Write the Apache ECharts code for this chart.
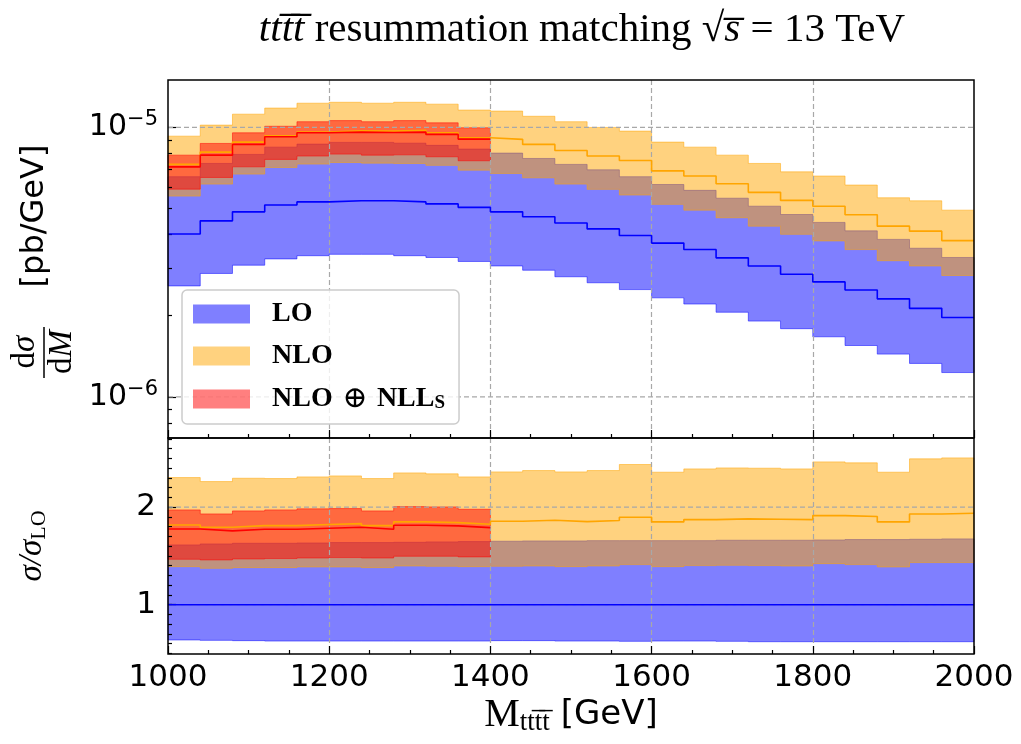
<!DOCTYPE html>
<html>
<head>
<meta charset="utf-8">
<title>tttt resummation matching</title>
<script src="https://cdn.jsdelivr.net/npm/echarts@6/dist/echarts.min.js"></script>
<style>
  html, body { margin: 0; padding: 0; background: #fff; }
  #chart { width: 1021px; height: 744px; }
</style>
</head>
<body>
<div id="chart"></div>
<script>
// bin edges of M(tttt) in GeV
const binEdges = [1000, 1040, 1080, 1120, 1160, 1200, 1240, 1280, 1320, 1360, 1400, 1440, 1480,
  1520, 1560, 1600, 1640, 1680, 1720, 1760, 1800, 1840, 1880, 1920, 1960, 2000];

// dsigma/dM [pb/GeV]
const loMid = [4.02e-6, 4.50e-6, 4.86e-6, 5.15e-6, 5.29e-6, 5.34e-6, 5.34e-6, 5.29e-6, 5.20e-6, 5.05e-6,
  4.86e-6, 4.66e-6, 4.42e-6, 4.20e-6, 3.97e-6, 3.72e-6, 3.52e-6, 3.28e-6, 3.06e-6, 2.85e-6,
  2.67e-6, 2.49e-6, 2.31e-6, 2.13e-6, 1.97e-6];
const loLow = [2.58e-6, 2.87e-6, 3.08e-6, 3.25e-6, 3.34e-6, 3.38e-6, 3.38e-6, 3.34e-6, 3.29e-6, 3.18e-6,
  3.06e-6, 2.95e-6, 2.79e-6, 2.65e-6, 2.50e-6, 2.33e-6, 2.21e-6, 2.06e-6, 1.91e-6, 1.79e-6,
  1.67e-6, 1.55e-6, 1.44e-6, 1.33e-6, 1.23e-6];
const loHigh = [6.56e-6, 7.35e-6, 7.94e-6, 8.45e-6, 8.67e-6, 8.80e-6, 8.80e-6, 8.74e-6, 8.58e-6, 8.31e-6,
  8.03e-6, 7.67e-6, 7.29e-6, 6.96e-6, 6.56e-6, 6.14e-6, 5.84e-6, 5.46e-6, 5.10e-6, 4.75e-6,
  4.44e-6, 4.13e-6, 3.84e-6, 3.56e-6, 3.29e-6];

const nloMid = [7.29e-6, 8.10e-6, 8.82e-6, 9.31e-6, 9.61e-6, 9.71e-6, 9.69e-6, 9.75e-6, 9.55e-6, 9.15e-6,
  9.03e-6, 8.65e-6, 8.21e-6, 7.83e-6, 7.54e-6, 6.90e-6, 6.60e-6, 6.18e-6, 5.74e-6, 5.36e-6,
  5.10e-6, 4.74e-6, 4.30e-6, 4.12e-6, 3.80e-6];
const nloLow = [5.56e-6, 6.16e-6, 6.71e-6, 7.10e-6, 7.31e-6, 7.41e-6, 7.37e-6, 7.35e-6, 7.23e-6, 6.94e-6,
  6.75e-6, 6.50e-6, 6.16e-6, 5.89e-6, 5.61e-6, 5.18e-6, 4.93e-6, 4.62e-6, 4.30e-6, 4.01e-6,
  3.79e-6, 3.52e-6, 3.20e-6, 3.06e-6, 2.82e-6];
const nloHigh = [9.28e-6, 1.02e-5, 1.12e-5, 1.18e-5, 1.23e-5, 1.24e-5, 1.23e-5, 1.24e-5, 1.22e-5, 1.16e-5,
  1.15e-5, 1.10e-5, 1.05e-5, 1.00e-5, 9.69e-6, 8.82e-6, 8.45e-6, 7.89e-6, 7.35e-6, 6.84e-6,
  6.60e-6, 6.11e-6, 5.48e-6, 5.34e-6, 4.93e-6];

// NLO+NLL_S only covers 1000-1400 GeV
const nllMid = [7.14e-6, 7.89e-6, 8.65e-6, 9.23e-6, 9.55e-6, 9.61e-6, 9.58e-6, 9.61e-6, 9.42e-6, 9.05e-6];
const nllLow = [5.90e-6, 6.52e-6, 7.14e-6, 7.61e-6, 7.83e-6, 7.96e-6, 7.89e-6, 7.91e-6, 7.78e-6, 7.52e-6];
const nllHigh = [7.89e-6, 8.72e-6, 9.55e-6, 1.01e-5, 1.05e-5, 1.06e-5, 1.05e-5, 1.06e-5, 1.04e-5, 9.97e-6];

// sigma / sigma_LO
const loRatioMid = [1, 1, 1, 1, 1, 1, 1, 1, 1, 1, 1, 1, 1, 1, 1, 1, 1, 1, 1, 1, 1, 1, 1, 1, 1];
const loRatioLow = [0.638, 0.634, 0.631, 0.627, 0.627, 0.627, 0.627, 0.627, 0.627, 0.627,
  0.631, 0.631, 0.627, 0.627, 0.624, 0.627, 0.627, 0.624, 0.620, 0.620,
  0.620, 0.620, 0.620, 0.620, 0.620];
const loRatioHigh = [1.613, 1.623, 1.630, 1.630, 1.633, 1.637, 1.637, 1.640, 1.644, 1.647,
  1.651, 1.654, 1.654, 1.657, 1.657, 1.657, 1.657, 1.661, 1.661, 1.661,
  1.664, 1.668, 1.668, 1.671, 1.675];
const nloRatioMid = [1.818, 1.794, 1.811, 1.811, 1.822, 1.832, 1.811, 1.849, 1.842, 1.825,
  1.856, 1.866, 1.852, 1.863, 1.897, 1.849, 1.873, 1.880, 1.876, 1.873,
  1.914, 1.904, 1.849, 1.931, 1.938];
const nloRatioLow = [1.390, 1.373, 1.380, 1.380, 1.387, 1.387, 1.380, 1.397, 1.394, 1.390,
  1.394, 1.397, 1.390, 1.397, 1.411, 1.390, 1.401, 1.404, 1.401, 1.397,
  1.421, 1.411, 1.387, 1.432, 1.432];
const nloRatioHigh = [2.304, 2.263, 2.297, 2.294, 2.311, 2.321, 2.294, 2.352, 2.342, 2.311,
  2.362, 2.376, 2.362, 2.376, 2.438, 2.359, 2.393, 2.403, 2.400, 2.393,
  2.465, 2.455, 2.359, 2.496, 2.506];
const nllRatioMid = [1.777, 1.757, 1.774, 1.774, 1.784, 1.794, 1.774, 1.815, 1.808, 1.791];
const nllRatioLow = [1.466, 1.459, 1.469, 1.473, 1.479, 1.483, 1.479, 1.497, 1.497, 1.490];
const nllRatioHigh = [1.972, 1.931, 1.962, 1.972, 1.983, 1.986, 1.962, 2.006, 2.003, 1.979];

// tick values
const xTicks = [1000, 1200, 1400, 1600, 1800, 2000];
const logMajorTicks = [1e-6, 1e-5];
const logMinorTicks = [8e-7, 9e-7, 2e-6, 3e-6, 4e-6, 5e-6, 6e-6, 7e-6, 8e-6, 9e-6];
const ratioMajorTicks = [1, 2];
const ratioMinorTicks = [];
for (let k = 5; k <= 27; k++) ratioMinorTicks.push(k / 10);

const legendLabels = {
  'LO': '{t|LO}',
  'NLO': '{t|NLO}',
  'NLL': '{t|NLO}{o| ⊕ }{t|NLL}{s|S}'
};

const blueFill = 'rgba(0,0,255,0.5)';
const orangeFill = 'rgba(255,165,0,0.5)';
const redFill = 'rgba(255,0,0,0.5)';
const gridGrey = '#a8a8a8';

const chart = echarts.init(document.getElementById('chart'));

function stepData(vals) {
  const pts = vals.map((v, i) => [binEdges[i], v]);
  pts.push([binEdges[vals.length], vals[vals.length - 1]]);
  return pts;
}

function band(name, lo, hi, color, xi, yi) {
  return {
    name: name,
    type: 'custom',
    xAxisIndex: xi,
    yAxisIndex: yi,
    z: 1,
    silent: true,
    itemStyle: { color: color },
    data: [[binEdges[0], lo[0]]],
    renderItem: function (params, api) {
      const top = [];
      const bottom = [];
      lo.forEach(function (v, i) {
        top.push(api.coord([binEdges[i], hi[i]]), api.coord([binEdges[i + 1], hi[i]]));
        bottom.push(api.coord([binEdges[i], v]), api.coord([binEdges[i + 1], v]));
      });
      return {
        type: 'polygon',
        shape: { points: top.concat(bottom.reverse()) },
        style: { fill: color, stroke: color, lineWidth: 1 }
      };
    }
  };
}

function stepLine(name, vals, color, xi, yi) {
  return {
    name: name,
    type: 'line',
    step: 'end',
    xAxisIndex: xi,
    yAxisIndex: yi,
    z: 5,
    silent: true,
    symbol: 'none',
    lineStyle: { color: color, width: 1.6 },
    data: stepData(vals)
  };
}

// horizontal dashed grid lines at the major ticks, drawn above the bands
function hGrid(values, xi, yi) {
  return {
    type: 'custom',
    xAxisIndex: xi,
    yAxisIndex: yi,
    z: 3,
    silent: true,
    data: values.map(function (v) { return [binEdges[0], v]; }),
    renderItem: function (params, api) {
      const a = api.coord([binEdges[0], api.value(1)]);
      const b = api.coord([binEdges[binEdges.length - 1], api.value(1)]);
      return {
        type: 'line',
        shape: { x1: a[0], y1: a[1], x2: b[0], y2: b[1] },
        style: { stroke: gridGrey, lineWidth: 1.2, lineDash: [5, 3] }
      };
    }
  };
}

const tickLine = { color: '#000', width: 1.2 };
const gridDash = {
  show: true,
  showMinLine: false,
  showMaxLine: false,
  lineStyle: { color: gridGrey, width: 1.2, type: [5, 3] }
};
const tickFont = { fontFamily: 'DejaVu Sans', fontSize: 31, color: '#000' };

function xAxisFor(gridIndex, withLabels) {
  return {
    gridIndex: gridIndex,
    type: 'value',
    position: 'bottom',
    min: 1000,
    max: 2000,
    interval: 200,
    z: 2,
    axisLine: { show: false },
    axisTick: { inside: true, length: 8, lineStyle: tickLine },
    minorTick: { show: true, splitNumber: 4, length: 4, lineStyle: tickLine },
    axisLabel: withLabels
      ? Object.assign({ margin: 8, customValues: xTicks, formatter: function (v) { return String(v); } }, tickFont)
      : { show: false },
    splitLine: gridDash
  };
}

function yTickAxis(gridIndex, type, min, max, ticks, len) {
  return {
    gridIndex: gridIndex, type: type, position: 'left', min: min, max: max, z: 2,
    axisLine: { show: false },
    axisTick: { inside: true, length: len, customValues: ticks, lineStyle: tickLine },
    axisLabel: { show: false },
    splitLine: { show: false }
  };
}

const option = {
  animation: false,
  backgroundColor: '#fff',
  title: {
    left: 577,
    top: 5,
    textAlign: 'center',
    text: '{it|ttt\u0305t\u0305} resummation matching √{it|s\u0305} = 13 TeV',
    textStyle: {
      fontFamily: 'Liberation Serif',
      fontSize: 41,
      fontWeight: 'normal',
      color: '#000',
      rich: {
        it: { fontFamily: 'Liberation Serif', fontStyle: 'italic', fontSize: 41, color: '#000' }
      }
    }
  },
  grid: [
    { left: 168, right: 47, top: 80, height: 358, show: true, z: 6,
      borderColor: '#000', borderWidth: 1.5, backgroundColor: 'transparent', outerBoundsMode: 'none' },
    { left: 168, right: 47, top: 438, height: 216, show: true, z: 6,
      borderColor: '#000', borderWidth: 1.5, backgroundColor: 'transparent', outerBoundsMode: 'none' }
  ],
  xAxis: [
    xAxisFor(0, false),
    Object.assign(xAxisFor(1, true), {
      name: '{m|M}{sub|ttt\u0305t\u0305}{g| [GeV]}',
      nameLocation: 'middle',
      nameGap: 40,
      nameTextStyle: {
        rich: {
          m: { fontFamily: 'Liberation Serif', fontSize: 40, color: '#000', lineHeight: 42 },
          sub: { fontFamily: 'Liberation Serif', fontSize: 27, color: '#000', lineHeight: 20, verticalAlign: 'bottom' },
          g: { fontFamily: 'DejaVu Sans', fontSize: 34, color: '#000', lineHeight: 42 }
        }
      }
    })
  ],
  yAxis: [
    {
      gridIndex: 0, type: 'log', logBase: 10, position: 'left', min: 7.03e-7, max: 1.5e-5, z: 2,
      axisLine: { show: false },
      axisTick: { inside: true, length: 8, customValues: logMajorTicks, lineStyle: tickLine },
      axisLabel: {
        customValues: logMajorTicks,
        margin: 10,
        formatter: function (v) {
          return '{b|10}{s|\u2212' + Math.round(-Math.log10(v)) + '}';
        },
        rich: {
          b: { fontFamily: 'DejaVu Sans', fontSize: 30, color: '#000', lineHeight: 36 },
          s: { fontFamily: 'DejaVu Sans', fontSize: 21, color: '#000', lineHeight: 22, verticalAlign: 'top' }
        }
      },
      splitLine: { show: false }
    },
    yTickAxis(0, 'log', 7.03e-7, 1.5e-5, logMinorTicks, 4),
    {
      gridIndex: 1, type: 'value', position: 'left', min: 0.494, max: 2.71, z: 2,
      axisLine: { show: false },
      axisTick: { inside: true, length: 8, customValues: ratioMajorTicks, lineStyle: tickLine },
      axisLabel: Object.assign({ margin: 12, customValues: ratioMajorTicks }, tickFont),
      splitLine: { show: false }
    },
    yTickAxis(1, 'value', 0.494, 2.71, ratioMinorTicks, 4)
  ],
  legend: {
    left: 182,
    top: 290,
    orient: 'vertical',
    z: 10,
    selectedMode: false,
    data: ['LO', 'NLO', 'NLL'],
    icon: 'rect',
    itemWidth: 57,
    itemHeight: 19,
    itemGap: 14,
    padding: [10, 14, 10, 11],
    backgroundColor: 'rgba(255,255,255,0.8)',
    borderColor: '#cccccc',
    borderWidth: 1.5,
    borderRadius: 5,
    formatter: function (name) { return legendLabels[name]; },
    textStyle: {
      padding: [0, 0, 0, 17],
      rich: {
        t: { fontFamily: 'Liberation Serif', fontWeight: 'bold', fontSize: 28, color: '#000', lineHeight: 28 },
        o: { fontFamily: 'DejaVu Serif', fontSize: 30, color: '#000', lineHeight: 28 },
        s: { fontFamily: 'Liberation Serif', fontWeight: 'bold', fontSize: 19, color: '#000', lineHeight: 14, verticalAlign: 'bottom' }
      }
    }
  },
  graphic: [
    { type: 'text', x: 35, y: 216, rotation: Math.PI / 2, z: 20,
      style: { text: '[pb/GeV]', fontFamily: 'DejaVu Sans', fontSize: 32, fill: '#000', align: 'center', verticalAlign: 'middle' } },
    { type: 'text', x: 25, y: 352, rotation: Math.PI / 2, z: 20,
      style: { text: 'd{i|σ}', fontFamily: 'Liberation Serif', fontSize: 33, fill: '#000', align: 'center', verticalAlign: 'middle',
        rich: { i: { fontFamily: 'Liberation Serif', fontStyle: 'italic', fontSize: 33, fill: '#000' } } } },
    { type: 'line', z: 20, shape: { x1: 44, y1: 327, x2: 44, y2: 378 }, style: { stroke: '#000', lineWidth: 1.5 } },
    { type: 'text', x: 62, y: 352, rotation: Math.PI / 2, z: 20,
      style: { text: 'd{i|M}', fontFamily: 'Liberation Serif', fontSize: 33, fill: '#000', align: 'center', verticalAlign: 'middle',
        rich: { i: { fontFamily: 'Liberation Serif', fontStyle: 'italic', fontSize: 33, fill: '#000' } } } },
    { type: 'text', x: 32, y: 546, rotation: Math.PI / 2, z: 20,
      style: { text: '{i|σ/σ}{s|LO}', align: 'center', verticalAlign: 'middle',
        rich: {
          i: { fontFamily: 'Liberation Serif', fontStyle: 'italic', fontSize: 33, fill: '#000', lineHeight: 36 },
          s: { fontFamily: 'Liberation Serif', fontSize: 22, fill: '#000', lineHeight: 18, verticalAlign: 'bottom' }
        } } }
  ],
  series: [
    band('LO', loLow, loHigh, blueFill, 0, 0),
    band('NLO', nloLow, nloHigh, orangeFill, 0, 0),
    band('NLL', nllLow, nllHigh, redFill, 0, 0),
    hGrid(logMajorTicks, 0, 0),
    stepLine('LO central', loMid, '#0000ff', 0, 0),
    stepLine('NLO central', nloMid, '#ffa500', 0, 0),
    stepLine('NLL central', nllMid, '#ff0000', 0, 0),

    band('LO', loRatioLow, loRatioHigh, blueFill, 1, 2),
    band('NLO', nloRatioLow, nloRatioHigh, orangeFill, 1, 2),
    band('NLL', nllRatioLow, nllRatioHigh, redFill, 1, 2),
    hGrid(ratioMajorTicks, 1, 2),
    stepLine('LO ratio', loRatioMid, '#0000ff', 1, 2),
    stepLine('NLO ratio', nloRatioMid, '#ffa500', 1, 2),
    stepLine('NLL ratio', nllRatioMid, '#ff0000', 1, 2)
  ]
};

chart.setOption(option);
</script>
</body>
</html>
